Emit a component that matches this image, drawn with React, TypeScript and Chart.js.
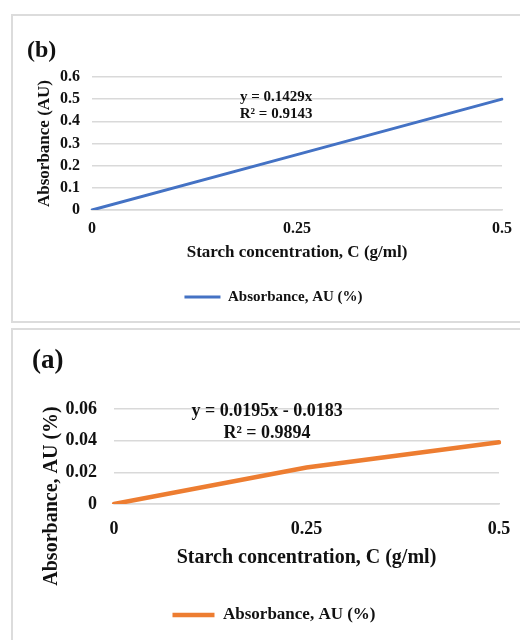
import React, { useEffect, useRef } from 'react';
import { Chart, registerables } from 'chart.js';

Chart.register(...registerables);

// ---------- data ----------
const xLabels = ['0', '0.25', '0.5'];
const absorbanceB = [0, 0.25, 0.5];
const absorbanceA = [0, 0.0231, 0.039];
const seriesName = 'Absorbance, AU (%)';
const panelLabelB = '(b)';
const panelLabelA = '(a)';
const xTitle = 'Starch concentration, C (g/ml)';
const yTitleB = 'Absorbance (AU)';
const yTitleA = 'Absorbance, AU (%)';
const equationB = ['y = 0.1429x', 'R² = 0.9143'];
const equationA = ['y = 0.0195x - 0.0183', 'R² = 0.9894'];
const yRangeB = [0, 0.6, 0.1];
const yRangeA = [0, 0.06, 0.02];

const FONT = "'Liberation Serif', 'Times New Roman', serif";
const TEXT = '#111111';
const GRID = '#d9d9d9';

const annotPlugin = {
  id: 'annot',
  afterDraw(chart: any, _args: any, opts: any) {
    const ctx = chart.ctx;
    ctx.save();
    ctx.fillStyle = TEXT;
    ctx.textBaseline = 'middle';
    ctx.textAlign = 'left';
    ctx.font = `bold ${opts.panelSize}px ${FONT}`;
    ctx.fillText(opts.panel, opts.panelX, opts.panelY);
    ctx.font = `bold ${opts.eqSize}px ${FONT}`;
    ctx.textAlign = 'center';
    const xs = chart.scales.x;
    const ys = chart.scales.y;
    opts.eq.forEach((t: string, i: number) => {
      ctx.fillText(t, xs.getPixelForValue(opts.eqX), ys.getPixelForValue(opts.eqY[i]));
    });
    if (opts.yTitle) {
      ctx.translate(opts.yTitle.x, opts.yTitle.y);
      ctx.rotate(-Math.PI / 2);
      ctx.font = `bold ${opts.yTitle.size}px ${FONT}`;
      ctx.fillText(opts.yTitle.text, 0, 0);
    }
    ctx.restore();
  },
};

function makeConfig(p: any): any {
  return {
    type: 'line',
    data: {
      labels: xLabels,
      datasets: [
        {
          label: seriesName,
          data: p.data,
          borderColor: p.color,
          backgroundColor: p.color,
          borderWidth: p.lineWidth,
          borderCapStyle: 'round',
          pointRadius: 0,
          tension: 0,
          fill: false,
        },
      ],
    },
    options: {
      responsive: false,
      animation: false,
      devicePixelRatio: 1,
      layout: { padding: p.padding },
      scales: {
        x: {
          type: 'category',
          offset: false,
          grid: { display: false, drawTicks: false },
          border: { display: true, color: GRID, width: 1.5 },
          ticks: {
            padding: p.xTickPad,
            maxRotation: 0,
            autoSkip: false,
            color: TEXT,
            font: { family: FONT, size: p.tickSize, weight: 'bold' },
          },
          title: {
            display: true,
            text: xTitle,
            color: TEXT,
            padding: 0,
            font: { family: FONT, size: p.xTitleSize, weight: 'bold' },
          },
          afterFit: (s: any) => {
            s.height = p.xHeight;
          },
        },
        y: {
          min: p.yRange[0],
          max: p.yRange[1],
          grid: { color: GRID, lineWidth: 1.5, drawTicks: false },
          border: { display: false },
          ticks: {
            stepSize: p.yRange[2],
            autoSkip: false,
            padding: p.yTickPad,
            color: TEXT,
            font: { family: FONT, size: p.tickSize, weight: 'bold' },
          },
          title: p.yTitleBuiltIn
            ? {
                display: true,
                text: p.yTitleBuiltIn,
                color: TEXT,
                padding: { top: p.yTitlePad, bottom: 0 },
                font: { family: FONT, size: p.yTitleSize, weight: 'bold' },
              }
            : { display: false },
          afterFit: (s: any) => {
            s.width = p.yWidth;
          },
        },
      },
      plugins: {
        legend: {
          position: 'bottom',
          labels: {
            usePointStyle: true,
            pointStyle: 'line',
            pointStyleWidth: p.legendLine,
            padding: p.legendPad,
            color: TEXT,
            font: { family: FONT, size: p.legendSize, weight: 'bold' },
          },
        },
        tooltip: { enabled: false },
        annot: p.annot,
      },
    },
    plugins: [annotPlugin],
  };
}

function ChartCanvas({ config, left, top, width, height }: any) {
  const ref = useRef<HTMLCanvasElement | null>(null);
  useEffect(() => {
    if (!ref.current) return;
    const chart = new Chart(ref.current, config);
    return () => chart.destroy();
  }, []);
  return (
    <canvas
      ref={ref}
      width={width}
      height={height}
      style={{ position: 'absolute', left, top, width, height }}
    />
  );
}

const configB = makeConfig({
  data: absorbanceB,
  color: '#4472C4',
  lineWidth: 3,
  padding: { left: 45, right: 45, top: 77, bottom: 7.5 },
  xTickPad: 9.4,
  tickSize: 16,
  xTitleSize: 17,
  xHeight: 53.2,
  yRange: yRangeB,
  yTickPad: 12,
  yTitleBuiltIn: yTitleB,
  yTitlePad: -10.2,
  yTitleSize: 17,
  yWidth: 47,
  legendLine: 36,
  legendPad: 26.3,
  legendSize: 15,
  annot: {
    panel: panelLabelB,
    panelSize: 24,
    panelX: 27,
    panelY: 51,
    eq: equationB,
    eqSize: 15,
    eqX: 0.898,
    eqY: [0.51, 0.433],
  },
});

const configA = makeConfig({
  data: absorbanceA,
  color: '#ED7D31',
  lineWidth: 4.5,
  padding: { left: 49, right: 48, top: 80, bottom: 6.5 },
  xTickPad: 14.2,
  tickSize: 18,
  xTitleSize: 20,
  xHeight: 66,
  yRange: yRangeA,
  yTickPad: 17,
  yTitleBuiltIn: null,
  yWidth: 65,
  legendLine: 42,
  legendPad: 36.5,
  legendSize: 17,
  annot: {
    panel: panelLabelA,
    panelSize: 27,
    panelX: 32,
    panelY: 32,
    eq: equationA,
    eqSize: 18,
    eqX: 0.795,
    eqY: [0.0587, 0.0448],
    yTitle: { text: yTitleA, x: 52, y: 167, size: 20 },
  },
});

export default function App() {
  return (
    <div
      style={{
        position: 'fixed',
        left: 0,
        top: 0,
        width: 520,
        height: 640,
        overflow: 'hidden',
        background: '#ffffff',
      }}
    >
      <div
        style={{
          position: 'absolute',
          left: 11,
          top: 14,
          width: 560,
          height: 309,
          boxSizing: 'border-box',
          border: `2px solid #dcdcdc`,
        }}
      />
      <div
        style={{
          position: 'absolute',
          left: 11,
          top: 328,
          width: 560,
          height: 340,
          boxSizing: 'border-box',
          border: `2px solid #dcdcdc`,
        }}
      />
      <ChartCanvas config={configB} left={0} top={0} width={547} height={322} />
      <ChartCanvas config={configA} left={0} top={329} width={547} height={311} />
    </div>
  );
}
